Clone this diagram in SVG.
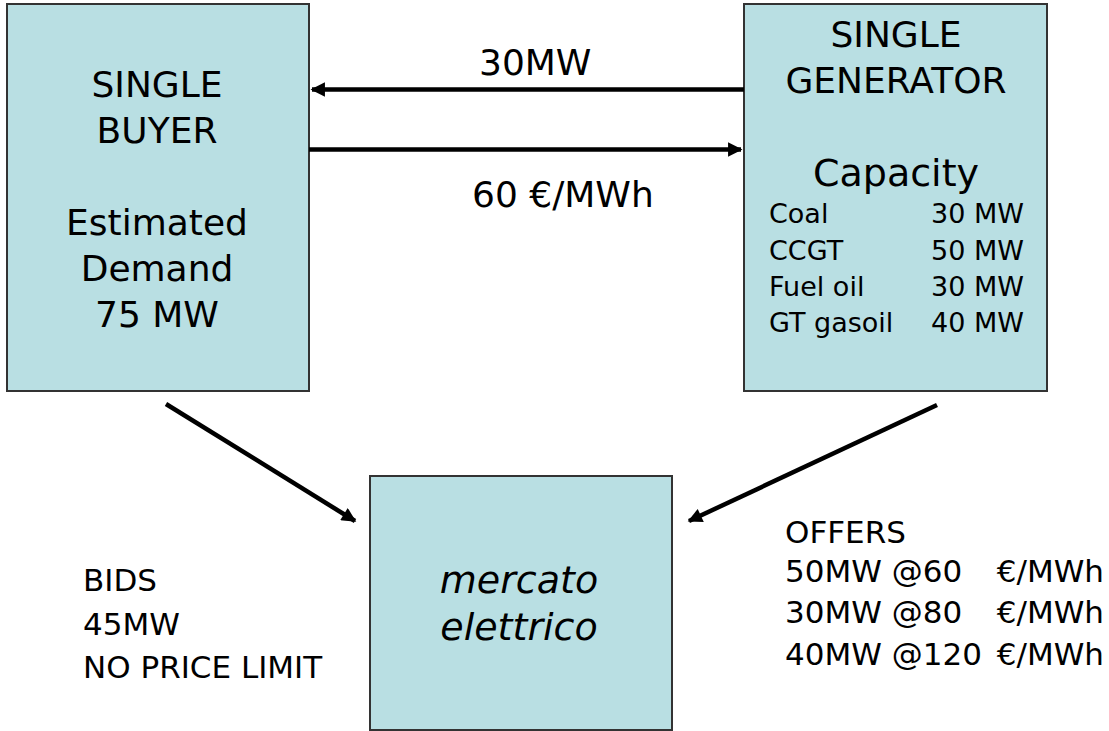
<svg xmlns="http://www.w3.org/2000/svg" width="1109" height="731" viewBox="0 0 1109 731">
<style>
.box{fill:#B9DFE3;stroke:#333;stroke-width:2}
.t{font-family:"DejaVu Sans","Liberation Sans",sans-serif;fill:#000}
.big{font-size:36px}
.med{font-size:31px}
.sm{font-size:27px}
.c{text-anchor:middle}
.ln{stroke:#000;stroke-width:4.5;fill:none}
</style>
<defs>
<marker id="ah" viewBox="0 0 10 10" refX="9" refY="5" markerWidth="3.6" markerHeight="3.2" orient="auto" markerUnits="strokeWidth">
<path d="M0,0 L10,5 L0,10 z" fill="#000"/>
</marker>
</defs>
<rect width="1109" height="731" fill="#fff"/>
<g id="buyer">
<rect class="box" x="7" y="4" width="302" height="387"/>
<text class="t big c" x="157" y="97">SINGLE</text>
<text class="t big c" x="157" y="143">BUYER</text>
<text class="t big c" x="157" y="235">Estimated</text>
<text class="t big c" x="157" y="281">Demand</text>
<text class="t big c" x="157" y="327">75 MW</text>
</g>
<g id="generator">
<rect class="box" x="744" y="4" width="303" height="387"/>
<text class="t big c" x="896" y="47">SINGLE</text>
<text class="t big c" x="896" y="93">GENERATOR</text>
<text class="t c" x="896" y="186" font-size="38">Capacity</text>
<text class="t sm" x="769" y="223">Coal</text>
<text class="t sm" x="769" y="260">CCGT</text>
<text class="t sm" x="769" y="296">Fuel oil</text>
<text class="t sm" x="769" y="332">GT gasoil</text>
<text class="t sm" x="1024" y="223" text-anchor="end">30 MW</text>
<text class="t sm" x="1024" y="260" text-anchor="end">50 MW</text>
<text class="t sm" x="1024" y="296" text-anchor="end">30 MW</text>
<text class="t sm" x="1024" y="332" text-anchor="end">40 MW</text>
</g>
<g id="market">
<rect class="box" x="370" y="476" width="302" height="254"/>
<text class="t c" x="519" y="593" font-size="38" font-style="italic">mercato</text>
<text class="t c" x="519" y="640" font-size="38" font-style="italic">elettrico</text>
</g>
<g id="connectors">
<line class="ln" x1="744" y1="89.5" x2="312" y2="89.5" marker-end="url(#ah)"/>
<line class="ln" x1="309" y1="149.5" x2="741" y2="149.5" marker-end="url(#ah)"/>
<line class="ln" x1="166" y1="404" x2="355" y2="521" marker-end="url(#ah)"/>
<line class="ln" x1="937" y1="405" x2="689" y2="521" marker-end="url(#ah)"/>
</g>
<g id="labels">
<text class="t big" x="479" y="75">30MW</text>
<text class="t big" x="472" y="207">60 €/MWh</text>
<text class="t med" x="83" y="591">BIDS</text>
<text class="t med" x="83" y="635">45MW</text>
<text class="t med" x="83" y="678">NO PRICE LIMIT</text>
<text class="t med" x="785" y="543">OFFERS</text>
<text class="t med" x="785" y="582">50MW @60</text>
<text class="t med" x="785" y="623">30MW @80</text>
<text class="t med" x="785" y="665">40MW @120</text>
<text class="t med" x="1104" y="582" text-anchor="end">€/MWh</text>
<text class="t med" x="1104" y="623" text-anchor="end">€/MWh</text>
<text class="t med" x="1104" y="665" text-anchor="end">€/MWh</text>
</g>
</svg>
